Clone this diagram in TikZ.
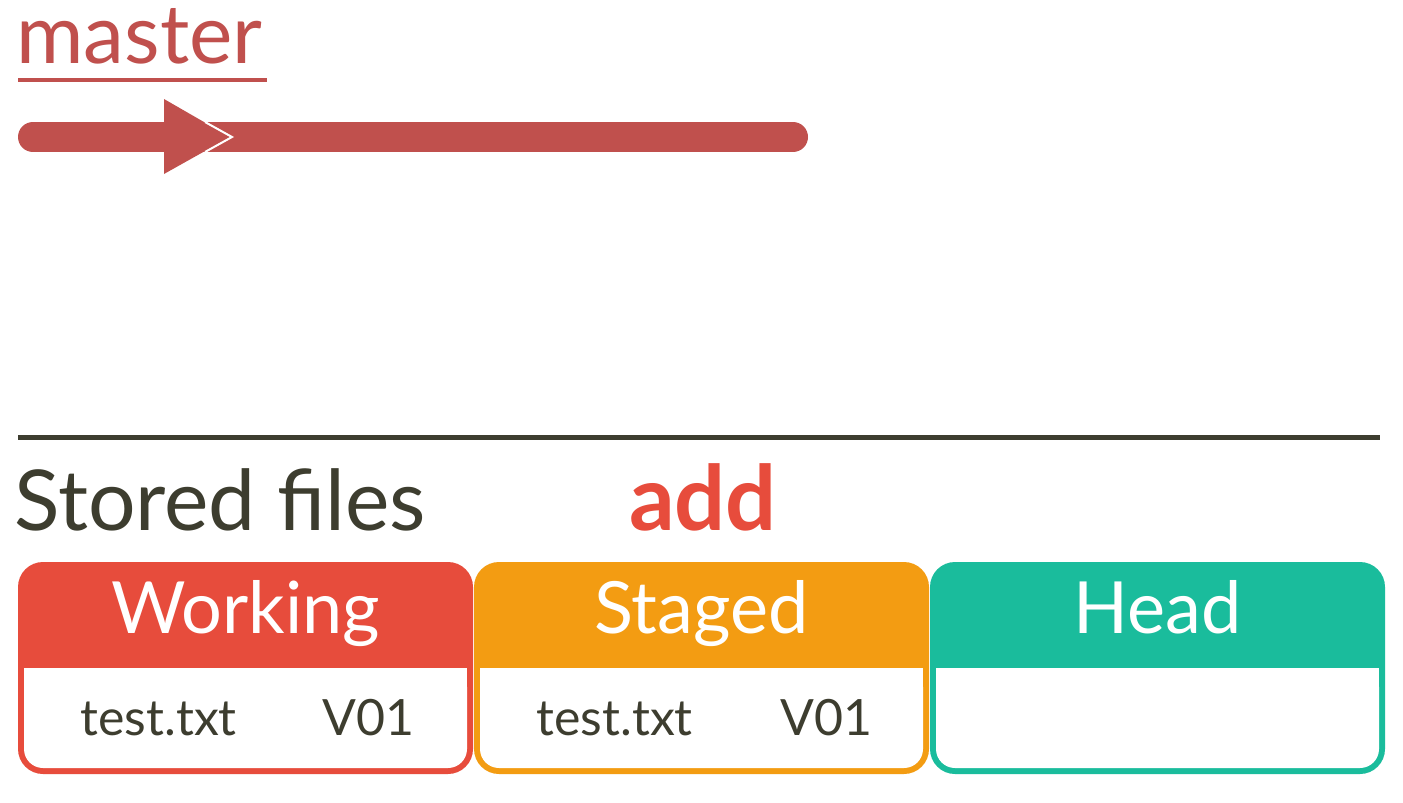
\documentclass[tikz,border=0pt]{standalone}
\usepackage{fontspec}
\setmainfont{Lato}
\usetikzlibrary{positioning}

\definecolor{branchred}{HTML}{C0504D}
\definecolor{darktext}{HTML}{3D3D2F}
\definecolor{workred}{HTML}{E74C3C}
\definecolor{stageorange}{HTML}{F39C12}
\definecolor{headteal}{HTML}{1ABC9C}

\tikzset{
  title/.style={anchor=base, inner sep=0pt, text=white, font=\fontsize{36}{36}\selectfont},
  filetext/.style={inner sep=0pt, text=darktext, font=\fontsize{25}{25}\selectfont},
}

\begin{document}
\begin{tikzpicture}[x=0.5pt, y=-0.5pt]

        % Размеры
        \def\W{455}   % ширина блока
        \def\T{562}   % верх блоков
        \def\B{774}   % низ блоков
        \def\S{668}   % граница заголовка

        \useasboundingbox[fill=white] (0,0) rectangle (1403,803);

        % Ветка master
        \node[anchor=base west, inner sep=0pt, text=branchred, font=\fontsize{41}{41}\selectfont] (master) at (16,63) {master};
        \draw[branchred, line width=2pt] (18,80) -- (267,80); % подчёркивание
        \coordinate (bstart) at (33,137);
        \coordinate (bend) at (793,137);
        \draw[branchred, line width=15pt, line cap=round] (bstart) -- (bend);

        % Стрелка на ветке
        \fill[branchred] (164,99) -- (230,137) -- (164,174) -- cycle;
        \draw[white, line width=1pt] (205,122) -- (232,137) -- (205,152);

        % Разделитель
        \draw[darktext, line width=2.5pt] (18,437) -- (1380,437);

        % Подписи
        \node[anchor=base west, inner sep=0pt, text=darktext, font=\fontsize{42}{42}\selectfont] (stored) at (14,530) {Stored files};
        \node[anchor=base, inner sep=0pt, text=workred, font=\fontsize{45}{45}\selectfont\bfseries] (add) at (703,530) {add};

        % Working
        \fill[workred, rounded corners=12.5pt] (18,\T) rectangle (18+\W,\B);
        \fill[white, rounded corners=9.5pt] (24,\S) rectangle (18+\W-6,\B-6);
        \fill[white] (24,\S) rectangle (18+\W-6,\S+30);
        \node[title] (working) at (18+\W/2,633) {Working};
        \node[filetext, anchor=base west] (wfile) at (80,735) {test.txt};
        \node[filetext, anchor=base east] (wver) at (415,735) {V01};

        % Staged
        \fill[stageorange, rounded corners=12.5pt] (474,\T) rectangle (474+\W,\B);
        \fill[white, rounded corners=9.5pt] (480,\S) rectangle (474+\W-6,\B-6);
        \fill[white] (480,\S) rectangle (474+\W-6,\S+30);
        \node[title] (staged) at (474+\W/2,633) {Staged};
        \node[filetext, anchor=base west] (sfile) at (536,735) {test.txt};
        \node[filetext, anchor=base east] (sver) at (873,735) {V01};

        % Head
        \fill[headteal, rounded corners=12.5pt] (930,\T) rectangle (930+\W,\B);
        \fill[white, rounded corners=9.5pt] (936,\S) rectangle (930+\W-6,\B-6);
        \fill[white] (936,\S) rectangle (930+\W-6,\S+30);
        \node[title] (head) at (930+\W/2,633) {Head};

        \end{tikzpicture}
\end{document}
